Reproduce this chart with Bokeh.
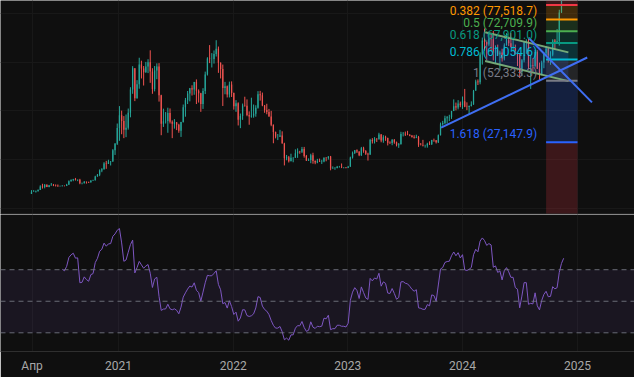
import numpy as np
import pandas as pd
from bokeh.plotting import figure
from bokeh.layouts import column
from bokeh.models import Range1d, FixedTicker, Span, BoxAnnotation, ColumnDataSource
from bokeh.core.properties import value
from bokeh.embed import file_html
from bokeh.resources import INLINE

# ---------------- data: weekly candles (week start 2020-03-30) ----------------
first_open = 5880
close_2020 = [6780, 6910, 7100, 7550, 8900, 8720, 9680, 8720, 9450, 9670, 9380, 9300, 9010, 9070, 9240, 9160,
              9700, 11060, 11590, 11910, 11660, 11710, 10280, 10330, 10940, 10770, 10670, 11380, 11500, 13030,
              13800, 15480, 16070, 18400, 18180, 19170, 19280, 23860, 26450, 33000]
high_2020 = [7460, 7470, 7290, 7770, 9460, 10070, 9950, 9840, 9600, 10380, 9990, 9800, 9770, 9300, 9470, 9340,
             10040, 11450, 11900, 12090, 12470, 11800, 12090, 10570, 11180, 10990, 10950, 11490, 11720, 13350,
             14070, 15970, 16480, 18950, 19480, 19920, 19420, 24300, 26800, 34800]
low_2020 = [5860, 6770, 6460, 6800, 7500, 8100, 8200, 8700, 8640, 9260, 9100, 8950, 8830, 8900, 9050, 9000,
            9130, 9650, 10930, 11130, 11380, 11130, 9880, 9850, 10200, 10140, 10370, 10530, 11220, 11400,
            12980, 13200, 14830, 15880, 16200, 18180, 17580, 19000, 21900, 26000]

close_2021 = [38150, 35800, 32250, 33100, 39250, 48800, 57500, 45200, 50970, 59000, 57350, 55800, 58200, 60000,
              56200, 49000, 56600, 58200, 46400, 34700, 35700, 35800, 39100, 35500, 34700, 35300, 34250, 31800,
              35400, 41500, 44400, 47100, 49300, 48800, 51800, 48300, 47200, 42800, 48200, 54900, 61500, 61300,
              61300, 63300, 65500, 59700, 57200, 49400, 50100, 46700, 50800, 47300]
high_2021 = [41950, 40100, 37850, 38500, 40950, 49700, 58350, 57500, 52600, 61800, 60600, 58400, 60100, 61200,
             64850, 57500, 58400, 59500, 59600, 46600, 40900, 39500, 41300, 41000, 36100, 36600, 35400, 34700,
             35500, 42600, 45300, 48150, 49400, 50500, 51900, 52900, 48800, 47400, 49300, 56100, 62000, 67000,
             63700, 64800, 69000, 66400, 59900, 59000, 51900, 50400, 52000, 52100]
low_2021 = [27700, 30400, 28800, 29200, 32300, 37350, 47000, 44000, 45000, 49100, 53300, 50400, 55600, 55500,
            51500, 47000, 48000, 53000, 43800, 30000, 33400, 34800, 31000, 34800, 28800, 32700, 32100, 31000,
            29300, 35200, 37600, 42800, 43900, 46300, 46600, 42800, 43400, 39600, 40800, 46900, 54500, 59600,
            57800, 59400, 62300, 55600, 53300, 42000, 46800, 45500, 45500, 45700]

close_2022 = [41900, 43100, 36300, 37900, 42200, 42100, 38300, 37700, 38000, 38800, 41300, 46800, 46400, 42200,
              40400, 39500, 37700, 34300, 31300, 29400, 29400, 29900, 26600, 20500, 21000, 19300, 20800, 20800,
              22600, 23300, 23200, 24300, 21500, 19550, 19800, 21800, 19400, 18800, 19300, 19100, 19200, 20800,
              20600, 21300, 16300, 16500, 16500, 17100, 17100, 16800, 16800, 16600]
high_2022 = [47500, 44400, 43500, 38900, 43000, 45800, 44700, 39800, 45400, 42600, 42300, 48100, 48200, 47500,
             42400, 42900, 40800, 40000, 34400, 31500, 30500, 32200, 31600, 26900, 21900, 21500, 22400, 21000,
             24200, 24600, 23600, 25200, 25200, 21900, 20500, 22400, 22800, 19700, 20300, 20400, 19900, 20900,
             21000, 21400, 21500, 17200, 16900, 17400, 17400, 18400, 16900, 16900]
low_2022 = [40500, 39600, 34000, 32900, 36300, 41700, 37800, 34300, 37200, 37200, 37600, 40900, 44200, 41900,
            39200, 38600, 37600, 33700, 26700, 28700, 28000, 29300, 26600, 17600, 19700, 18800, 19300, 18900,
            20700, 20700, 22400, 22700, 20800, 19500, 19500, 18500, 18300, 18100, 18500, 19000, 18200, 18900,
            19300, 20000, 15600, 16300, 15800, 16400, 16700, 16500, 16400, 16400]

close_2023 = [17100, 20900, 22700, 23800, 23300, 21800, 24600, 23500, 22400, 22100, 28000, 27500, 28500, 28300,
              30300, 27800, 29200, 28900, 26900, 26800, 28100, 27100, 25900, 26300, 30500, 30600, 30300, 30200,
              29800, 29300, 29000, 29300, 26100, 26000, 25800, 25800, 26500, 26300, 28000, 27900, 27100, 30000,
              34500, 35000, 37000, 37400, 37500, 39900, 41900, 41400, 43000, 42300]
high_2023 = [17400, 21200, 23300, 23900, 24200, 23400, 25200, 25250, 23900, 22800, 28500, 28800, 29200, 28800,
             31000, 30500, 30000, 29800, 29000, 27500, 28400, 28400, 27400, 26800, 31400, 31300, 31500, 31800,
             30400, 30100, 30000, 30200, 29700, 26800, 28100, 26100, 26900, 27500, 28100, 28600, 28000, 30300,
             35200, 35900, 38000, 37900, 38400, 40000, 44700, 43400, 44400, 43800]
low_2023 = [16500, 17100, 20400, 22300, 22700, 21400, 21500, 22800, 21900, 19600, 21900, 26600, 26600, 27200,
            28200, 27100, 26900, 27700, 25800, 26400, 25900, 26500, 25400, 24800, 26200, 29500, 29700, 30000,
            29600, 29000, 28600, 28800, 25200, 25800, 25400, 24900, 24900, 26000, 26000, 27300, 26600, 26800,
            29900, 33900, 34500, 34800, 35800, 36700, 39900, 40200, 40600, 41500]

close_2024 = [43900, 41700, 41600, 42000, 42600, 48300, 52100, 51700, 63100, 68900, 68300, 67200, 69700, 69400,
              63900, 64900, 63100, 64000, 61500, 66900, 69000, 67800, 66200, 66200, 63200, 62700, 55900, 60800,
              68200, 68200, 58200, 58700, 58400, 64200, 57300, 54800, 59900, 63600, 65600, 62800, 63000, 69000,
              68000, 68700, 80400, 90500, 98000]
high_2024 = [45900, 49000, 43500, 42200, 43900, 48600, 52800, 52900, 64000, 70100, 73800, 68900, 71700, 71300,
             72800, 66900, 67200, 64700, 65500, 67700, 71900, 70600, 71900, 70000, 67200, 63400, 63700, 61300,
             68400, 69400, 70000, 62700, 61600, 65000, 64900, 59800, 60600, 64100, 66500, 66100, 64500, 69400,
             69500, 73600, 81500, 93400, 99500]
low_2024 = [40800, 41500, 40300, 38500, 41800, 42500, 48300, 50600, 50900, 59000, 64600, 60800, 66500, 64500,
            60700, 59600, 62500, 56500, 60200, 60700, 66800, 66600, 66000, 65000, 63200, 58400, 53500, 54300,
            59900, 63400, 57100, 49000, 56100, 57800, 57200, 52500, 54600, 57500, 62700, 59800, 58900, 62400,
            65100, 67500, 66800, 80200, 89400]

# time axis ticks
tick_dates = ["2020-04-01", "2021-01-01", "2022-01-01", "2023-01-01", "2024-01-01", "2025-01-01"]
tick_labels = ["Апр", "2021", "2022", "2023", "2024", "2025"]
price_grid = [0, 20000, 40000, 60000, 80000]

# drawings
trend_up_dates = ["2023-10-25", "2025-02-01"]
trend_up_prices = [33100, 61900]
trend_down_dates = ["2024-07-29", "2025-02-16"]
trend_down_prices = [70000, 43500]
chan_dates = ["2024-03-13", "2024-12-03"]
chan_upper = [72300, 64000]
chan_lower = [60500, 52200]
fib_dates = ["2024-09-23", "2025-01-01"]
fib_levels = [0, 0.236, 0.382, 0.5, 0.618, 0.786, 1, 1.618, 2.618]
fib_prices = [93086.4, 83468.7, 77518.7, 72709.9, 67901.0, 61054.6, 52333.3, 27147.9, -13605.2]
fib_colors = ["#787b86", "#f23645", "#ff9800", "#4caf50", "#089981", "#00bcd4", "#787b86", "#2962ff", "#f23645"]
fib_label_text = ["0.382 (77,518.7)", "0.5 (72,709.9)", "0.618 (67,901.0)", "0.786 (61,054.6)",
                  "1 (52,333.3)", "1.618 (27,147.9)"]
fib_label_idx = [2, 3, 4, 5, 6, 7]

# ---------------- assemble ----------------
close = close_2020 + close_2021 + close_2022 + close_2023 + close_2024
high = high_2020 + high_2021 + high_2022 + high_2023 + high_2024
low = low_2020 + low_2021 + low_2022 + low_2023 + low_2024
open_ = [first_open] + close[:-1]
dates = pd.date_range("2020-03-30", periods=len(close), freq="7D")

c = np.array(close, float)
o = np.array(open_, float)
h = np.array(high, float)
lo = np.array(low, float)


def rsi_wilder(arr, n=14):
    d = np.diff(arr)
    up = np.maximum(d, 0)
    dn = np.maximum(-d, 0)
    out = np.full(len(arr), np.nan)
    au = up[:n].mean()
    ad = dn[:n].mean()
    out[n] = 100 - 100 / (1 + au / ad)
    for i in range(n, len(d)):
        au = (au * (n - 1) + up[i]) / n
        ad = (ad * (n - 1) + dn[i]) / n
        out[i + 1] = 100.0 if ad == 0 else 100 - 100 / (1 + au / ad)
    return out


rsi = rsi_wilder(c)

BG = "#0f0f0f"
GRID = "#181818"
SEP = "#2f2f2f"
UP = "#26a69a"
DN = "#ef5350"
FONT = "Roboto"

origin = pd.Timestamp("2021-01-01")
xr = Range1d(start=origin - pd.Timedelta(days=375.6), end=origin + pd.Timedelta(days=1642.4))
tick_ms = [int(pd.Timestamp(t).value // 10**6) for t in tick_dates]

# ---------------- main price pane ----------------
p = figure(width=634, height=214, x_range=xr, y_range=Range1d(-2545, 85302),
           x_axis_type="datetime", x_axis_location=None, y_axis_location=None,
           toolbar_location=None, output_backend="svg", min_border=0,
           background_fill_color=BG, border_fill_color=BG, outline_line_color=None)
p.xgrid.ticker = FixedTicker(ticks=tick_ms)
p.ygrid.ticker = FixedTicker(ticks=price_grid)
p.xgrid.grid_line_color = GRID
p.ygrid.grid_line_color = GRID

inc = c >= o
dec = ~inc
W = 4 * 24 * 3600 * 1000
for mask, col in ((inc, UP), (dec, DN)):
    src = ColumnDataSource(dict(x=dates[mask], hi=h[mask], lo=lo[mask],
                                top=np.maximum(o, c)[mask], bot=np.minimum(o, c)[mask]))
    p.segment(x0="x", y0="lo", x1="x", y1="hi", source=src, line_color=col, line_width=1)
    p.vbar(x="x", width=W, top="top", bottom="bot", source=src, fill_color=col, line_color=None)

cd = pd.to_datetime(chan_dates)
p.patch(x=[cd[0], cd[1], cd[1], cd[0]], y=[chan_upper[0], chan_upper[1], chan_lower[1], chan_lower[0]],
        fill_color="#2962ff", fill_alpha=0.18, line_color=None)

fd = pd.to_datetime(fib_dates)
for i in range(1, len(fib_prices)):
    p.quad(left=fd[0], right=fd[1], top=fib_prices[i - 1], bottom=fib_prices[i],
           fill_color=fib_colors[i], fill_alpha=0.2, line_color=None)

p.line(x=cd, y=chan_upper, line_color="#7fb77e", line_width=2, line_alpha=0.9)
p.line(x=cd, y=chan_lower, line_color="#7fb77e", line_width=2, line_alpha=0.9)

for i in range(len(fib_prices)):
    p.segment(x0=fd[0], y0=fib_prices[i], x1=fd[1], y1=fib_prices[i],
              line_color=fib_colors[i], line_width=2)

p.line(x=pd.to_datetime(trend_up_dates), y=trend_up_prices, line_color="#3f6ef2", line_width=2)
p.line(x=pd.to_datetime(trend_down_dates), y=trend_down_prices, line_color="#3f6ef2", line_width=2)

lab_src = ColumnDataSource(dict(x=[fd[0]] * len(fib_label_idx),
                                y=[fib_prices[i] for i in fib_label_idx],
                                t=fib_label_text,
                                col=[fib_colors[i] for i in fib_label_idx]))
p.text(x="x", y="y", text="t", source=lab_src, text_color="col", text_align="right",
       text_baseline="bottom", x_offset=-9, y_offset=-1,
       text_font=value(FONT), text_font_size="12px")

p.add_layout(Span(location=-2340, dimension="width", line_color=SEP, line_width=1))

# ---------------- RSI pane ----------------
p2 = figure(width=634, height=163, x_range=xr, y_range=Range1d(18.15, 105),
            x_axis_type="datetime", x_axis_location="below", y_axis_location=None,
            toolbar_location=None, output_backend="svg", min_border=0, min_border_bottom=26,
            background_fill_color=BG, border_fill_color=BG, outline_line_color=None)
ax = p2.xaxis[0]
ax.ticker = FixedTicker(ticks=tick_ms)
ax.major_label_overrides = {t: lab for t, lab in zip(tick_ms, tick_labels)}
ax.major_tick_line_color = None
ax.minor_tick_line_color = None
ax.major_tick_out = 0
ax.major_tick_in = 0
ax.axis_line_color = SEP
ax.major_label_standoff = 7
ax.major_label_text_color = "#a8a8a8"
ax.major_label_text_font = FONT
ax.major_label_text_font_size = "12px"
p2.xgrid.grid_line_color = GRID
p2.ygrid.grid_line_color = None

p2.add_layout(BoxAnnotation(bottom=30, top=70, fill_color="#7e57c2", fill_alpha=0.1, line_color=None))
for lvl in (70, 50, 30):
    p2.add_layout(Span(location=lvl, dimension="width", line_color="#787b86", line_alpha=0.85,
                       line_width=1, line_dash="5 4"))
p2.line(x=dates, y=rsi, line_color="#7e57c2", line_width=1)

layout = column(p, p2, spacing=0)
open("out.html", "w").write(file_html(layout, INLINE))
